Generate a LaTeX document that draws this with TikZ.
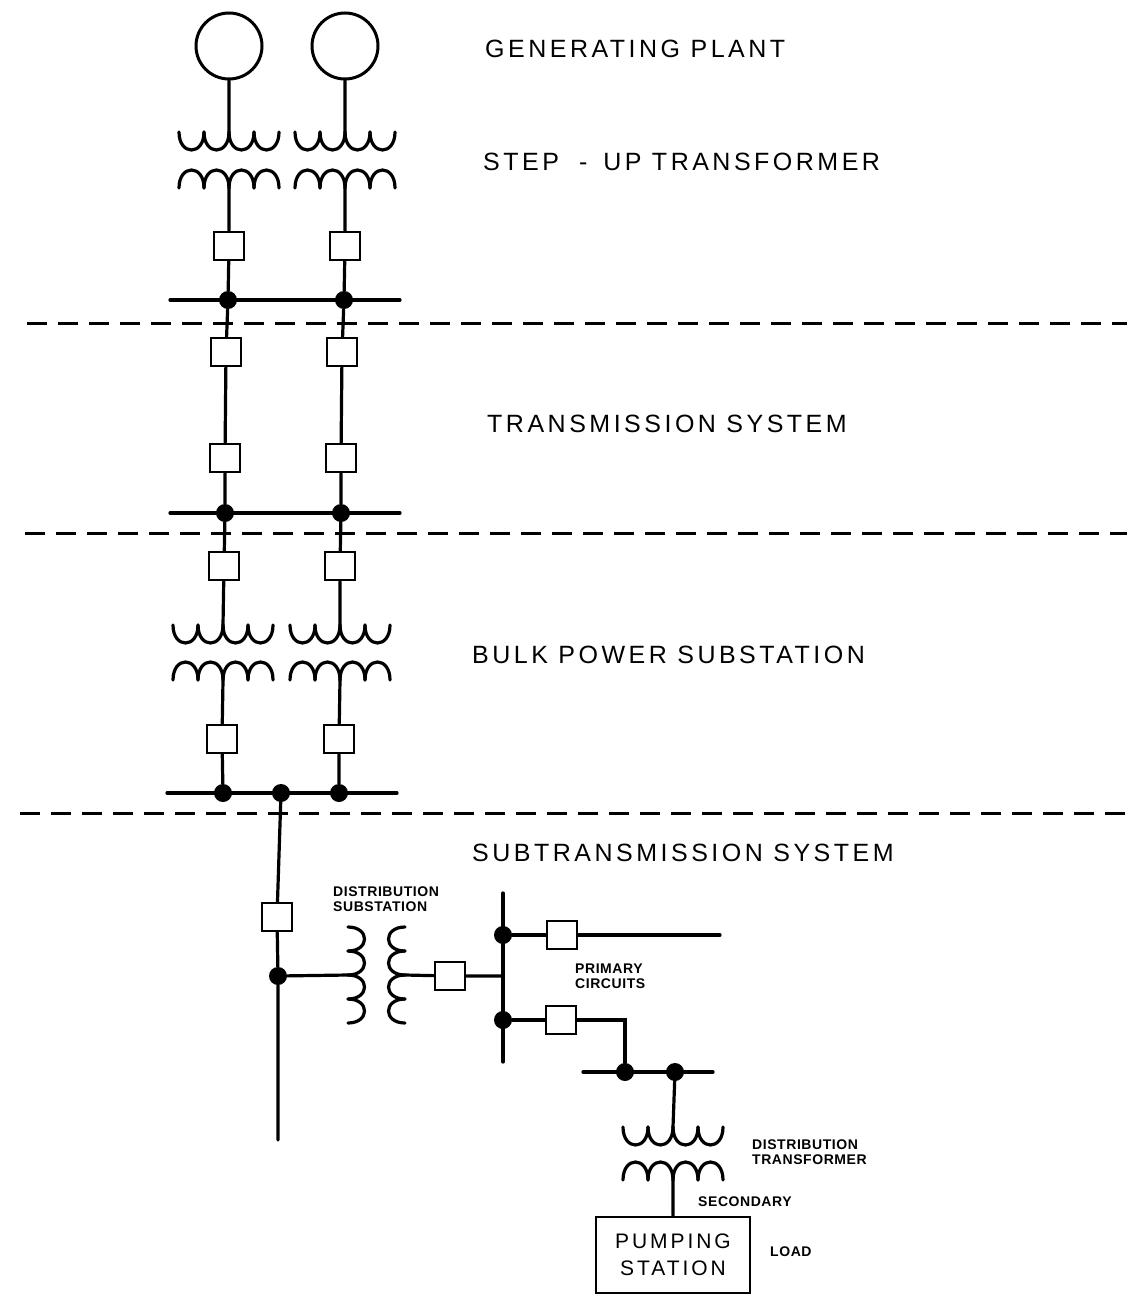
\documentclass[tikz,border=0pt]{standalone}
\usepackage{fontspec}
\setmainfont{Liberation Sans}
\newfontfamily\bigfont[LetterSpace=14]{Liberation Sans}
\newfontfamily\smallfont[LetterSpace=4]{Liberation Sans}
\newcommand\windU[3]{%
  \foreach \i in {0,1,2,3}{\draw[wire] ({#2-50+25*\i},#3) .. controls ({#2-50+25*\i},{#3+24}) and ({#2-25+25*\i},{#3+24}) .. ({#2-25+25*\i},#3);}
  \coordinate (#1) at (#2,#3);}
\newcommand\windA[3]{%
  \foreach \i in {0,1,2,3}{\draw[wire] ({#2-50+25*\i},#3) .. controls ({#2-50+25*\i},{#3-24}) and ({#2-25+25*\i},{#3-24}) .. ({#2-25+25*\i},#3);}
  \coordinate (#1) at (#2,#3);}
\newcommand\coilL[3]{%
  \foreach \i in {0,1,2,3}{\draw[wire] (#2,{#3-48+24*\i}) .. controls ({#2+22},{#3-48+24*\i}) and ({#2+22},{#3-24+24*\i}) .. (#2,{#3-24+24*\i});}
  \coordinate (#1) at (#2,#3);}
\newcommand\coilR[3]{%
  \foreach \i in {0,1,2,3}{\draw[wire] (#2,{#3-48+24*\i}) .. controls ({#2-22},{#3-48+24*\i}) and ({#2-22},{#3-24+24*\i}) .. (#2,{#3-24+24*\i});}
  \coordinate (#1) at (#2,#3);}
\begin{document}
\begin{tikzpicture}[x=1pt,y=-1pt,
  wire/.style={line width=3.2pt,line cap=round},
  sep/.style={line width=3pt,dash pattern=on 20pt off 11pt},
  brk/.style={draw,line width=2.8pt,fill=white,minimum width=30pt,minimum height=28pt,inner sep=0pt},
  dot/.style={circle,fill,minimum size=18pt,inner sep=0pt},
  gen/.style={circle,draw,line width=3pt,minimum size=66pt,inner sep=0pt},
  loadbox/.style={draw,line width=2.8pt,minimum width=154pt,minimum height=76pt,inner sep=0pt,align=center,font=\bigfont\fontsize{21}{27}\selectfont},
  biglbl/.style={anchor=west,inner sep=0pt,font=\bigfont\fontsize{25}{27}\selectfont},
  smalllbl/.style={inner sep=0pt,align=left,font=\smallfont\bfseries\fontsize{14}{15}\selectfont}]
\useasboundingbox (0,0) rectangle (1127,1298);
% separators
\coordinate (s1a) at (27,323); \coordinate (s1b) at (1127,323);
\coordinate (s2a) at (25,533); \coordinate (s2b) at (1127,533);
\coordinate (s3a) at (20,813); \coordinate (s3b) at (1127,813);
\draw[sep] (s1a) -- (s1b);
\draw[sep] (s2a) -- (s2b);
\draw[sep] (s3a) -- (s3b);
% generating plant and step-up
\node[gen] (g1) at (229,46) {};
\node[gen] (g2) at (345,46) {};
\windU{u1}{229}{132} \windA{a1}{229}{188}
\windU{u2}{345}{132} \windA{a2}{345}{188}
\node[brk] (k1) at (229,246) {};
\node[brk] (k2) at (345,246) {};
\coordinate (bus1w) at (170,300); \coordinate (bus1e) at (400,300);
\draw[wire] (bus1w) -- (bus1e);
\node[dot] (p1) at (228,300) {};
\node[dot] (p2) at (344,300) {};
% transmission
\node[brk] (k3) at (226,352) {};
\node[brk] (k4) at (342,352) {};
\node[brk] (k5) at (225,458) {};
\node[brk] (k6) at (341,458) {};
\coordinate (bus2w) at (170,513); \coordinate (bus2e) at (400,513);
\draw[wire] (bus2w) -- (bus2e);
\node[dot] (p3) at (225,513) {};
\node[dot] (p4) at (341,513) {};
% bulk power substation
\node[brk] (k7) at (224,566) {};
\node[brk] (k8) at (340,566) {};
\windU{u3}{223}{625} \windA{a3}{223}{680}
\windU{u4}{340}{625} \windA{a4}{340}{680}
\node[brk] (k9) at (222,739) {};
\node[brk] (k10) at (339,739) {};
\coordinate (bus3w) at (167,793); \coordinate (bus3e) at (397,793);
\draw[wire] (bus3w) -- (bus3e);
\node[dot] (p5) at (223,793) {};
\node[dot] (p6) at (281,793) {};
\node[dot] (p7) at (339,793) {};
% connectors columns
\draw[wire] (g1) -- (u1) (a1) -- (k1) (k1) -- (p1) (p1) -- (k3) (k3) -- (k5) (k5) -- (p3) (p3) -- (k7) (k7) -- (u3) (a3) -- (k9) (k9) -- (p5);
\draw[wire] (g2) -- (u2) (a2) -- (k2) (k2) -- (p2) (p2) -- (k4) (k4) -- (k6) (k6) -- (p4) (p4) -- (k8) (k8) -- (u4) (a4) -- (k10) (k10) -- (p7);
% subtransmission
\node[brk] (k11) at (277,917) {};
\node[dot] (p8) at (278,976) {};
\coordinate (vend) at (278,1140);
\draw[wire] (p6) -- (k11) (k11) -- (p8) (p8) -- (vend);
\coilL{cl}{348}{975} \coilR{cr}{405}{975}
\node[brk] (k12) at (450,976) {};
\coordinate (vb1) at (503,893); \coordinate (vb2) at (503,1062); \coordinate (vbj) at (503,976);
\draw[wire] (vb1) -- (vb2);
\draw[wire] (p8) -- (cl) (cr) -- (k12) (k12) -- (vbj);
\node[dot] (p9) at (503,935) {};
\node[dot] (p10) at (503,1020) {};
\node[brk] (k13) at (562,935) {};
\coordinate (e1) at (720,935);
\node[brk] (k14) at (561,1020) {};
\coordinate (c1) at (625,1020);
\coordinate (bus4w) at (583,1072); \coordinate (bus4e) at (713,1072);
\draw[wire] (bus4w) -- (bus4e);
\node[dot] (p11) at (625,1072) {};
\node[dot] (p12) at (675,1072) {};
\draw[wire] (p9) -- (k13) (k13) -- (e1) (p10) -- (k14) (k14) -- (c1) -- (p11);
\windU{u5}{673}{1127} \windA{a5}{673}{1180}
\node[loadbox] (load) at (673,1255) {PUMPING\\STATION};
\draw[wire] (p12) -- (u5) (a5) -- (load);
% labels
\node[biglbl] (t1) at (485,49) {GENERATING PLANT};
\node[biglbl] (t2) at (483,162) {STEP\hspace{20pt}-\hspace{16pt}UP TRANSFORMER};
\node[biglbl] (t3) at (487,424) {TRANSMISSION SYSTEM};
\node[biglbl] (t4) at (472,655) {BULK POWER SUBSTATION};
\node[biglbl] (t5) at (472,853) {SUBTRANSMISSION SYSTEM};
\node[smalllbl,anchor=north west] (t6) at (333,887) {DISTRIBUTION\\SUBSTATION};
\node[smalllbl,anchor=north west] (t7) at (575,964) {PRIMARY\\CIRCUITS};
\node[smalllbl,anchor=north west] (t8) at (752,1140) {DISTRIBUTION\\TRANSFORMER};
\node[smalllbl,anchor=west] (t9) at (698,1202) {SECONDARY};
\node[smalllbl,anchor=west] (t10) at (770,1252) {LOAD};
\end{tikzpicture}
\end{document}
